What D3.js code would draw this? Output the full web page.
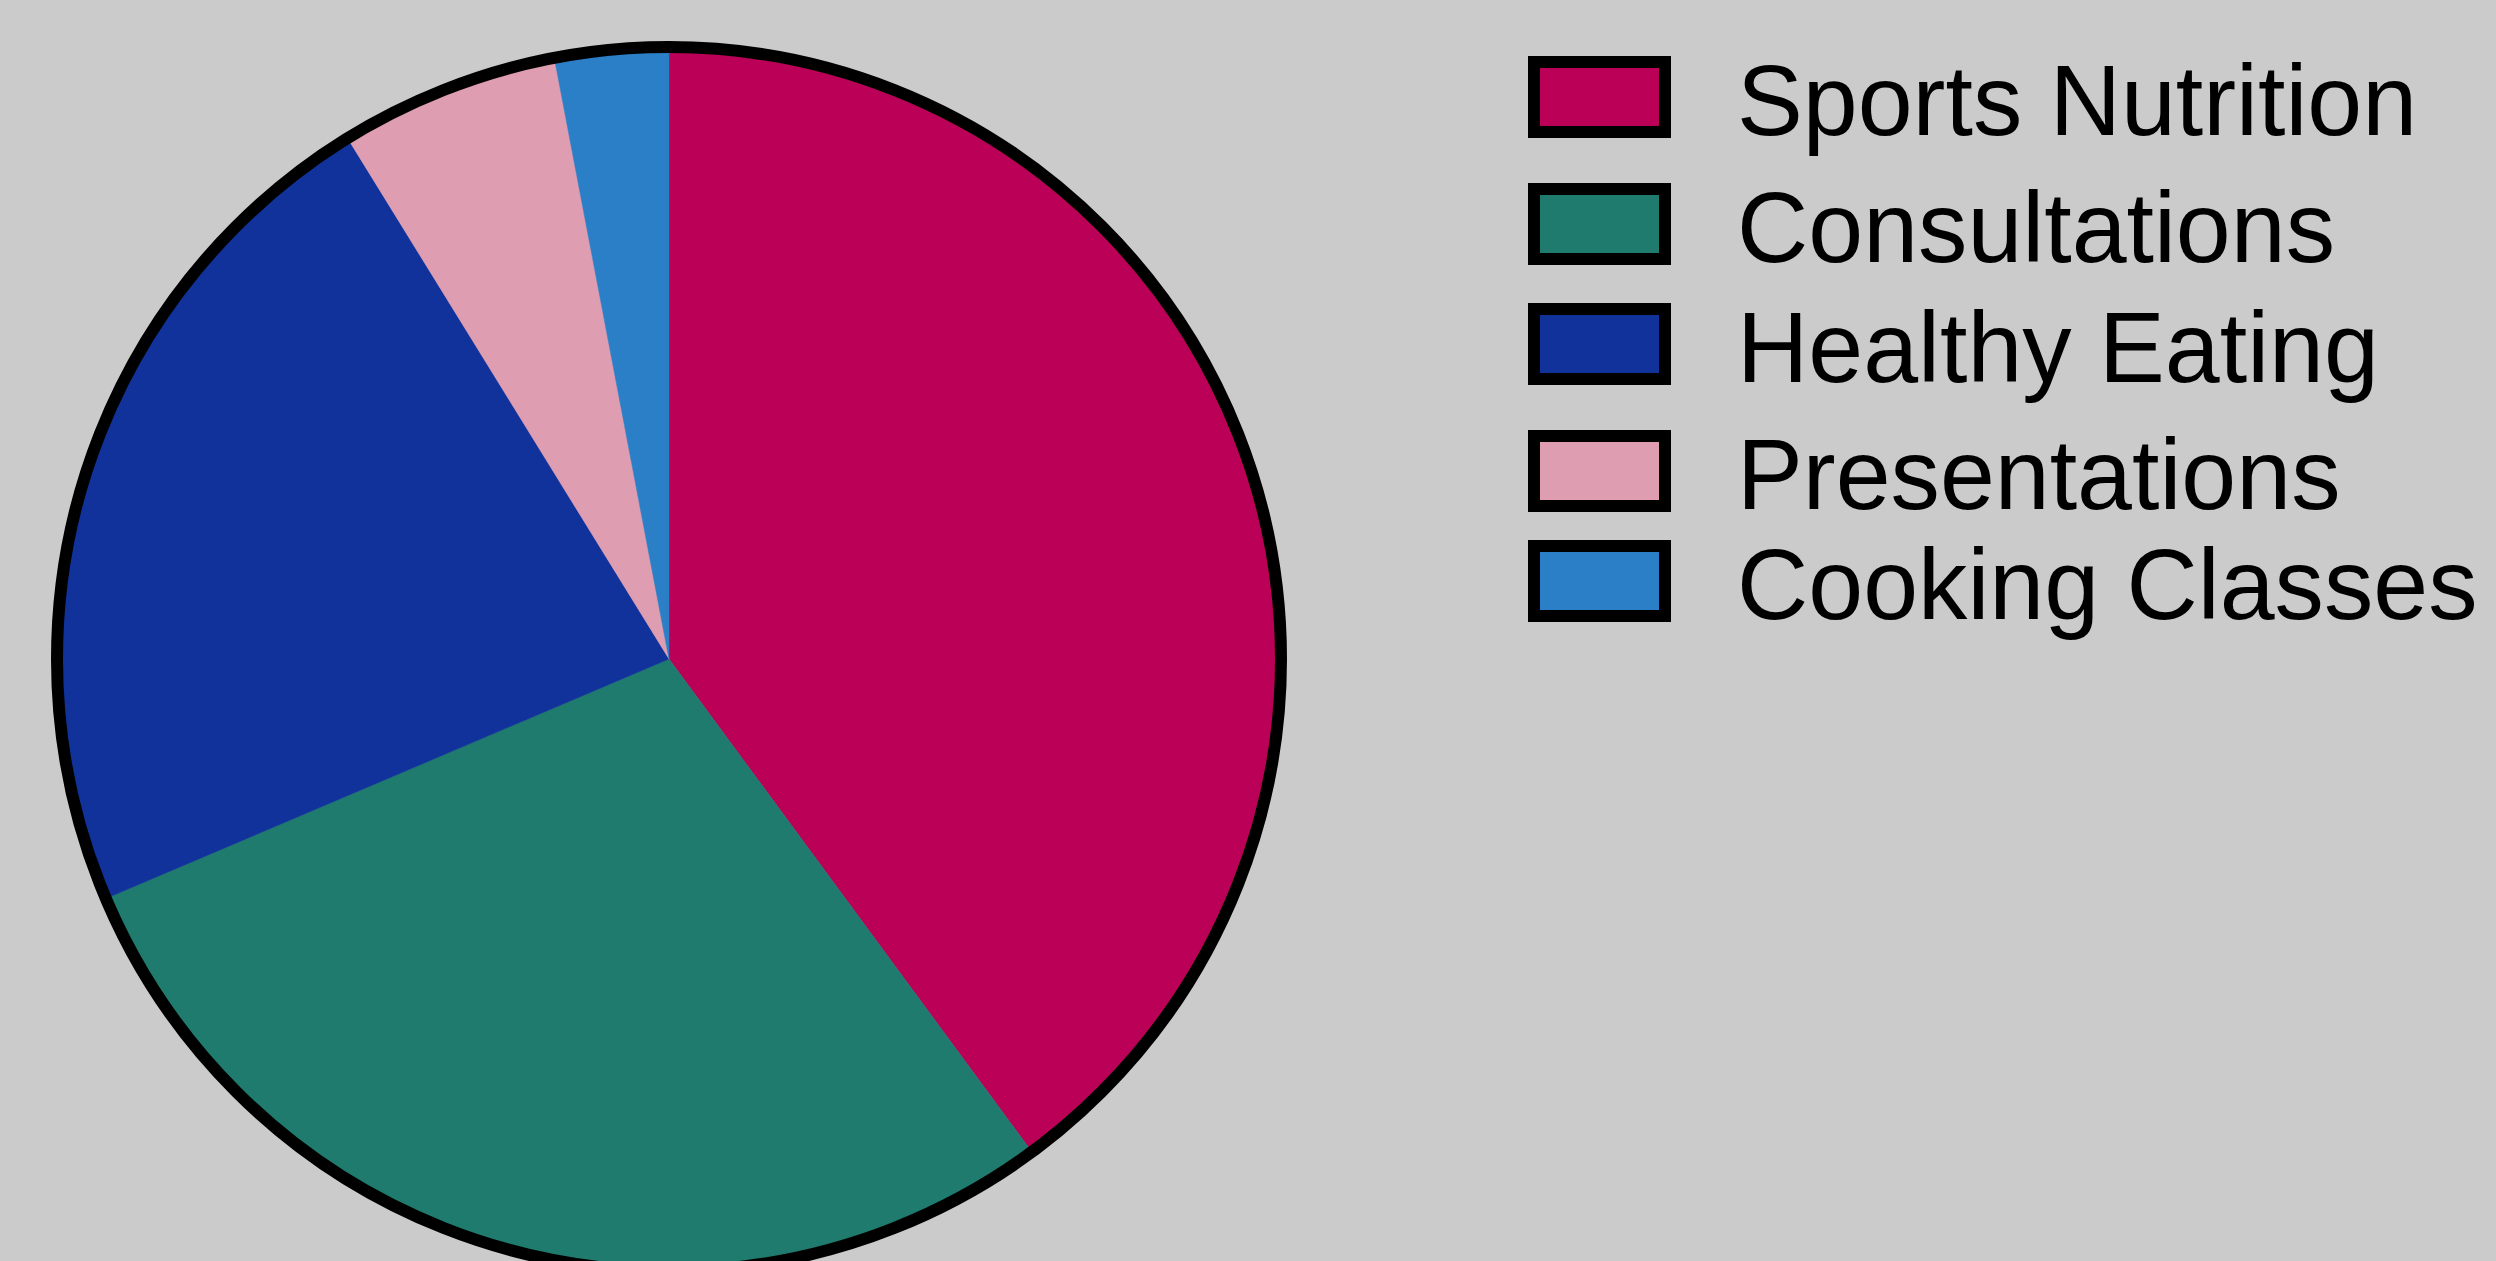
<!DOCTYPE html>
<html>
<head>
<meta charset="utf-8">
<script src="https://cdn.jsdelivr.net/npm/d3@7/dist/d3.min.js"></script>
<style>
  html, body { margin: 0; padding: 0; background: #cbcbcb; overflow: hidden; }
  svg { display: block; }
</style>
</head>
<body>
<script>
// ---- data ----
const categories = ["Sports Nutrition", "Consultations", "Healthy Eating", "Presentations", "Cooking Classes"];
const values = [39.9, 28.7, 22.6, 5.8, 3.0];
const colors = ["#ba0057", "#1e7b6e", "#10329a", "#de9db0", "#2a7fc6"];

// ---- layout ----
const W = 2496, H = 1261;
const cx = 669, cy = 659, R = 612;
const legendX = 1534, textX = 1737;
const legendRowTop = [56, 183, 303, 430, 540];

const svg = d3.select("body").append("svg").attr("width", W).attr("height", H);
svg.append("rect").attr("width", W).attr("height", H).attr("fill", "#cbcbcb");

const pie = d3.pie().sort(null).value(d => d.v);
const arcs = pie(categories.map((c, i) => ({ c, v: values[i], col: colors[i] })));
const arc = d3.arc().innerRadius(0).outerRadius(R);

const g = svg.append("g").attr("transform", `translate(${cx},${cy})`);
g.selectAll("path").data(arcs).join("path")
  .attr("d", arc)
  .attr("fill", d => d.data.col)
  .attr("stroke", d => d.data.col)
  .attr("stroke-width", 0.5);
g.append("circle").attr("r", R).attr("fill", "none")
  .attr("stroke", "#000").attr("stroke-width", 12);

const lg = svg.append("g");
categories.forEach((c, i) => {
  const top = legendRowTop[i];
  lg.append("rect")
    .attr("x", legendX).attr("y", top + 6)
    .attr("width", 131).attr("height", 70)
    .attr("fill", colors[i]).attr("stroke", "#000").attr("stroke-width", 12);
  lg.append("text")
    .attr("transform", `translate(${textX},${top + 79}) scale(0.987,1)`)
    .attr("font-family", "'Liberation Sans', Arial, sans-serif")
    .attr("font-size", 100)
    .attr("fill", "#000")
    .text(c);
});
</script>
</body>
</html>
